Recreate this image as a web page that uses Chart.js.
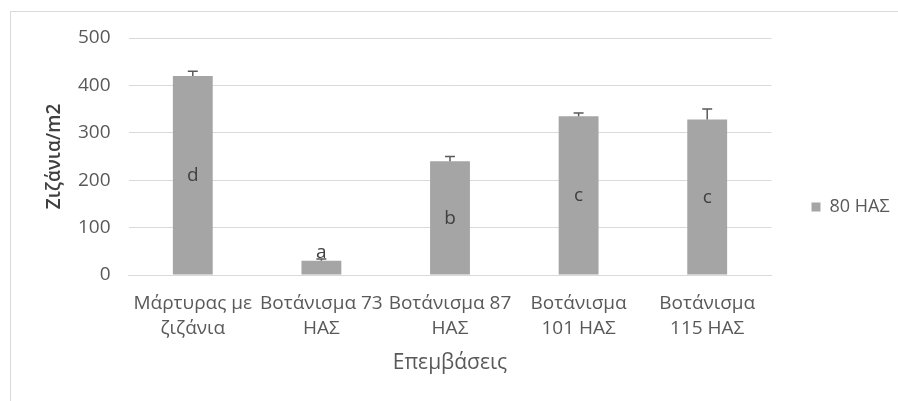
<!DOCTYPE html>
<html>
<head>
<meta charset="utf-8">
<script src="https://cdn.jsdelivr.net/npm/chart.js@4/dist/chart.umd.min.js"></script>
<style>
  html, body { margin: 0; padding: 0; background: #ffffff; overflow: hidden; }
  #wrap { position: relative; width: 898px; height: 401px; overflow: hidden; }
  #frame { position: absolute; left: 10px; top: 11px; width: 1000px; height: 1000px; border: 1px solid #d9d9d9; }
  #chart { position: absolute; left: 0; top: 0; }
</style>
</head>
<body>
<div id="wrap">
  <div id="frame"></div>
  <canvas id="chart" width="898" height="401"></canvas>
</div>
<script>
// Weed density per treatment, measured at 80 ΗΑΣ
const categories = [
  ['Μάρτυρας με', 'ζιζάνια'],
  ['Βοτάνισμα 73', 'ΗΑΣ'],
  ['Βοτάνισμα 87', 'ΗΑΣ'],
  ['Βοτάνισμα', '101 ΗΑΣ'],
  ['Βοτάνισμα', '115 ΗΑΣ']
];
const weedDensity = [420, 30, 240, 335, 328];
const errorMargins = [10, 4, 10, 7, 22];
const groupLetters = ['d', 'a', 'b', 'c', 'c'];
const seriesName = '80 ΗΑΣ';
const yMin = 0, yMax = 500, yStep = 100;

const FONT = "'Open Sans', 'DejaVu Sans', sans-serif";
const BAR_COLOR = '#a5a5a5';
const TEXT_COLOR = '#595959';

// Upper error bars with caps
const errorBarPlugin = {
  id: 'errorBars',
  afterDatasetsDraw(chart) {
    const ctx = chart.ctx;
    const y = chart.scales.y;
    const meta = chart.getDatasetMeta(0);
    ctx.save();
    ctx.strokeStyle = '#5a5a5a';
    ctx.lineWidth = 1.5;
    meta.data.forEach((bar, i) => {
      const v = weedDensity[i];
      const top = y.getPixelForValue(v + errorMargins[i]);
      const base = y.getPixelForValue(v);
      ctx.beginPath();
      ctx.moveTo(bar.x, base);
      ctx.lineTo(bar.x, top);
      ctx.moveTo(bar.x - 5, top);
      ctx.lineTo(bar.x + 5, top);
      ctx.stroke();
    });
    ctx.restore();
  }
};

// Significance letters: centred in the bar, or just above a short bar
const letterPlugin = {
  id: 'groupLetters',
  afterDraw(chart) {
    const ctx = chart.ctx;
    const y = chart.scales.y;
    const meta = chart.getDatasetMeta(0);
    ctx.save();
    ctx.fillStyle = '#404040';
    ctx.font = '19px ' + FONT;
    ctx.textAlign = 'center';
    ctx.textBaseline = 'middle';
    meta.data.forEach((bar, i) => {
      const v = weedDensity[i];
      let py;
      if (v < 100) {
        py = y.getPixelForValue(v) - 8;
      } else {
        py = y.getPixelForValue(v / 2);
      }
      ctx.fillText(groupLetters[i], bar.x, py);
    });
    ctx.restore();
  }
};

new Chart(document.getElementById('chart'), {
  type: 'bar',
  data: {
    labels: categories,
    datasets: [{
      label: seriesName,
      data: weedDensity,
      backgroundColor: BAR_COLOR,
      borderWidth: 0,
      barPercentage: 0.31,
      categoryPercentage: 1.0
    }]
  },
  options: {
    responsive: false,
    animation: false,
    devicePixelRatio: 1,
    layout: { padding: { left: 0, top: 38, right: 0, bottom: 25 } },
    plugins: {
      tooltip: { enabled: false },
      legend: {
        position: 'right',
        maxWidth: 126.5,
        labels: {
          color: TEXT_COLOR,
          font: { family: FONT, size: 18 },
          boxWidth: 9,
          boxHeight: 9,
          padding: 40
        }
      }
    },
    scales: {
      x: {
        grid: { display: false, drawTicks: false },
        border: { display: true, color: '#d9d9d9' },
        ticks: {
          color: TEXT_COLOR,
          font: { family: FONT, size: 19, lineHeight: '25px' },
          padding: 16,
          maxRotation: 0,
          autoSkip: false
        },
        title: {
          display: true,
          text: 'Επεμβάσεις',
          color: TEXT_COLOR,
          font: { family: FONT, size: 21 },
          padding: { top: 0, bottom: 0 }
        },
        afterFit(scale) { scale.height = 101; }
      },
      y: {
        min: yMin,
        max: yMax,
        grid: { color: '#d9d9d9', drawTicks: false },
        border: { display: false },
        ticks: {
          stepSize: yStep,
          color: TEXT_COLOR,
          font: { family: FONT, size: 19 },
          padding: 18
        },
        title: {
          display: true,
          text: 'Ζιζάνια/m2',
          color: '#404040',
          font: { family: FONT, size: 19, weight: 600 },
          padding: { top: 43, bottom: 0 }
        },
        afterFit(scale) { scale.width = 128.5; }
      }
    }
  },
  plugins: [errorBarPlugin, letterPlugin]
});
</script>
</body>
</html>
